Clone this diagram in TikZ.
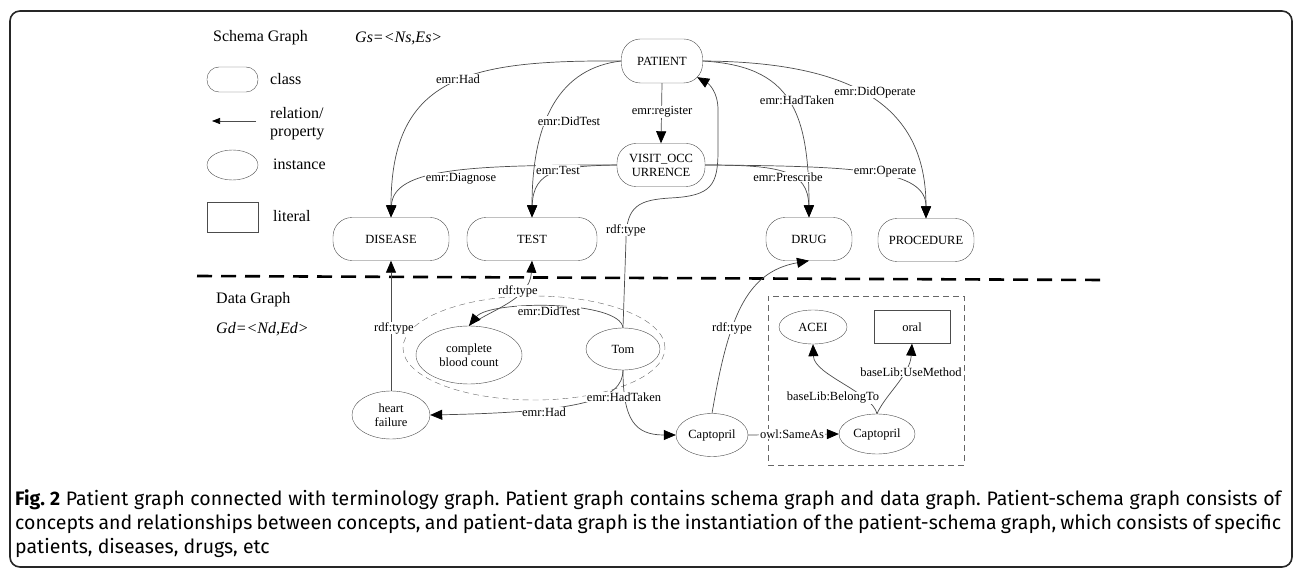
\documentclass[tikz,border=0pt]{standalone}
\usepackage{fontspec}
\setmainfont{Liberation Serif}
\newfontfamily\capfont{Fira Sans}
\usetikzlibrary{arrows.meta, shapes.geometric, calc}

\tikzset{
  cls/.style={draw=black!70, rounded corners=19pt, minimum height=43pt, inner sep=0pt, align=center, font=\fontsize{12.5}{14}\selectfont},
  inst/.style={draw=black!70, ellipse, inner sep=0pt, align=center, font=\fontsize{12.5}{14}\selectfont},
  lit/.style={draw=black!70, rectangle, inner sep=0pt, font=\fontsize{12.5}{14}\selectfont},
  lbl/.style={fill=white, inner sep=0.6pt, font=\fontsize{12.5}{14}\selectfont},
  rel/.style={draw=black!70, line width=0.7pt, -{Triangle[length=12pt,width=10pt,color=black]}},
  legtxt/.style={anchor=west, inner sep=0pt, align=left, font=\fontsize{16}{18}\selectfont},
}

\begin{document}
\begin{tikzpicture}[x=1pt,y=-1pt]
\useasboundingbox (0,0) rectangle (1295,569);
\draw[line width=1.6pt, black!85, rounded corners=10pt] (10,11) rectangle (1292,567);

% legend
\node[legtxt] (sgTitle) at (213,38) {Schema Graph};
\node[legtxt] (gsDef) at (355,38) {\itshape Gs=<Ns,Es>};
\node[draw=black!70, rounded corners=12pt, minimum width=51pt, minimum height=25pt] (legCls) at (232.5,79.5) {};
\node[legtxt] (legClsTxt) at (270,79) {class};
\coordinate (legRelA) at (256,121);
\coordinate (legRelB) at (212,121);
\draw[rel, -{Triangle[length=8pt,width=6pt,color=black]}] (legRelA) -- (legRelB);
\node[legtxt] (legRelTxt) at (270,124) {relation/\\property};
\node[inst, minimum width=51pt, minimum height=30pt] (legInst) at (232.5,165) {};
\node[legtxt] (legInstTxt) at (273,164) {instance};
\node[lit, minimum width=51pt, minimum height=30pt] (legLit) at (232.5,217) {};
\node[legtxt] (legLitTxt) at (273,216) {literal};

% schema graph
\node[cls, minimum width=81pt, minimum height=44pt] (patient) at (662,61) {PATIENT};
\node[cls, minimum width=88pt] (visit) at (661,165) {VISIT\_OCC\\URRENCE};
\node[cls, minimum width=116pt] (disease) at (391,239) {DISEASE};
\node[cls, minimum width=130pt] (test) at (532,239) {TEST};
\node[cls, minimum width=86pt] (drug) at (809,239) {DRUG};
\node[cls, minimum width=96pt] (procedure) at (926,240) {PROCEDURE};

\draw[line width=2.6pt, dash pattern=on 15pt off 9pt] (197,276) -- (1103,280);

% data graph
\node[legtxt] (dgTitle) at (216,300) {Data Graph};
\node[legtxt] (gdDef) at (216,329) {\itshape Gd=<Nd,Ed>};
\node[ellipse, draw=black!60, dash pattern=on 6pt off 4pt, minimum width=262pt, minimum height=104pt] (tomGroup) at (534,348) {};
\node[rectangle, draw=black!60, dash pattern=on 6pt off 4pt, minimum width=196pt, minimum height=169pt] (termBox) at (866,380.5) {};
\node[inst, minimum width=106pt, minimum height=58pt] (cbc) at (469,355) {complete\\blood count};
\node[inst, minimum width=74pt, minimum height=42pt] (tom) at (623,349) {Tom};
\node[inst, minimum width=78pt, minimum height=48pt] (hf) at (391,415) {heart\\failure};
\node[inst, minimum width=72pt, minimum height=43pt] (capA) at (712,435) {Captopril};
\node[inst, minimum width=76pt, minimum height=40pt] (capB) at (877,434) {Captopril};
\node[inst, minimum width=68pt, minimum height=34pt] (acei) at (813,327) {ACEI};
\node[lit, minimum width=76pt, minimum height=33pt] (oral) at (912,327) {oral};
\coordinate (patTip) at ($(patient.south east)+(-5.5,-6)$);

% schema edges
\draw[rel] (patient.west) .. controls (470,60) and (391,75) .. (disease.north);
\draw[rel] (patient.west) .. controls (560,68) and (532,120) .. (test.north);
\draw[rel] (patient.south) -- (visit.north);
\draw[rel] (visit.west) .. controls (470,165) and (393,168) .. (disease.north);
\draw[rel] (visit.west) .. controls (560,166) and (533,170) .. (test.north);
\draw[rel] (patient.east) .. controls (790,66) and (809,110) .. (drug.north);
\draw[rel] (patient.east) .. controls (860,62) and (926,110) .. (procedure.north);
\draw[rel] (visit.east) .. controls (780,165) and (808,170) .. (drug.north);
\draw[rel] (visit.east) .. controls (860,166) and (926,170) .. (procedure.north);
\draw[rel] (tom.north) -- (626,240) .. controls (626,205) and (640,200) .. (670,198)
  .. controls (712,196) and (718,185) .. (718,150) -- (718,110)
  .. controls (718,92) and (709,84) .. (patTip);

% data edges
\draw[rel] (cbc.north) .. controls (490,310) and (530,300) .. (test.south);
\draw[rel] (tom.north) .. controls (620,300) and (490,300) .. (cbc.north);
\draw[rel] (hf.north) -- (disease.south);
\draw[rel] (tom.south) .. controls (623,400) and (580,412) .. (hf.east);
\draw[rel] (tom.south) .. controls (623,420) and (635,435) .. (capA.west);
\draw[rel] (capA.north) .. controls (728,320) and (745,272) .. (drug.south);
\draw[rel] (capA.east) -- (capB.west);
\draw[rel] (capB.north) .. controls (872,392) and (814,375) .. (acei.south);
\draw[rel] (capB.north) .. controls (885,395) and (910,375) .. (oral.south);

% edge labels
\node[lbl] (lHad) at (458,79) {emr:Had};
\node[lbl] (lDidTest) at (569,121) {emr:DidTest};
\node[lbl] (lRegister) at (662,112) {emr:register};
\node[lbl] (lDiagnose) at (461,179) {emr:Diagnose};
\node[lbl] (lTest) at (558,170) {emr:Test};
\node[lbl] (lTomType) at (626,230) {rdf:type};
\node[lbl] (lHadTaken) at (797,100) {emr:HadTaken};
\node[lbl] (lDidOperate) at (875,92) {emr:DidOperate};
\node[lbl] (lPrescribe) at (788,177) {emr:Prescribe};
\node[lbl] (lOperate) at (885,172) {emr:Operate};
\node[lbl] (lTestType) at (518,291) {rdf:type};
\node[lbl] (lDidTestD) at (549,311) {emr:DidTest};
\node[lbl] (lHfType) at (394,328) {rdf:type};
\node[lbl] (lHadTakenD) at (624,397) {emr:HadTaken};
\node[lbl] (lHadD) at (544,412) {emr:Had};
\node[lbl] (lDrugType) at (732,328) {rdf:type};
\node[lbl] (lSameAs) at (792,434) {owl:SameAs};
\node[lbl] (lBelong) at (833,398) {baseLib:BelongTo};
\node[lbl] (lUse) at (911,372) {baseLib:UseMethod};

% caption
\node[anchor=north west, text width=1266pt, inner sep=0pt, align=justify,
  font=\capfont\fontsize{19.5}{24}\selectfont\frenchspacing] (caption) at (15,489)
  {\textbf{Fig. 2} Patient graph connected with terminology graph. Patient graph contains schema graph and data graph. Patient-schema graph consists of\linebreak
  concepts and relationships between concepts, and patient-data graph is the instantiation of the patient-schema graph, which consists of specific\linebreak
  patients, diseases, drugs, etc};
\end{tikzpicture}
\end{document}
